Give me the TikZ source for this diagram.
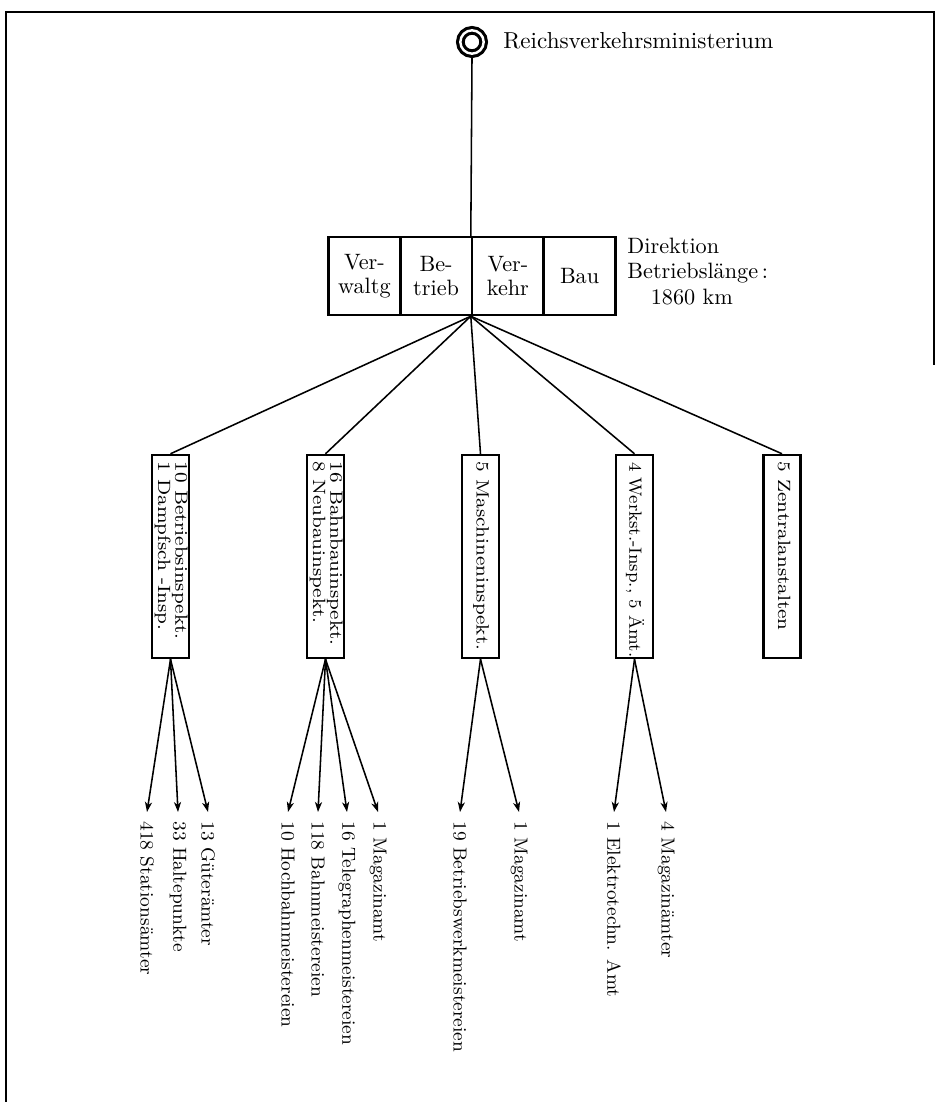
\documentclass[tikz,border=0pt]{standalone}
\usepackage{fontspec}
\usepackage{graphicx}
\usetikzlibrary{arrows.meta,calc}
\newcommand\unittext[3]{\rotatebox{-90}{\scalebox{#1}[1]{\makebox[#2][l]{\begin{tabular}{@{}l@{}}#3\end{tabular}}}}}
\begin{document}
\begin{tikzpicture}[x=0.45pt,y=-0.45pt,
  frame/.style={line width=1.1pt},
  conn/.style={line width=0.7pt},
  arr/.style={line width=0.7pt,-{Stealth[length=4.5pt,width=3.2pt,inset=1.3pt]}},
  ring/.style={circle,draw,line width=1.4pt,double,double distance=1.1pt,minimum size=10.5pt,inner sep=0pt,outer sep=1.95pt},
  cell/.style={draw,line width=1.1pt,minimum width=32.3pt,minimum height=35.1pt,inner sep=0pt,align=center,font=\fontsize{10}{11}\selectfont},
  unitbox/.style={draw,line width=1.1pt,minimum width=16.65pt,minimum height=91.35pt,inner xsep=0.4pt,inner ysep=3pt,font=\fontsize{8}{7.2}\selectfont},
  leaf/.style={inner xsep=0pt,inner ysep=4pt,anchor=north,font=\fontsize{8.5}{9}\selectfont}
]
\useasboundingbox (0,0) rectangle (935,1102);
\draw[frame] (6,1102) -- (6,12) -- (934,12) -- (934,365);

% ministry
\node[ring] (rvm) at (472,42) {};
\node[anchor=base west,inner sep=0pt,font=\fontsize{10.4}{12}\selectfont] (rvmt) at (503,49) {Reichsverkehrsministerium};

% direction cells
\node[cell] (c1) at (364.4,276) {Ver-\\waltg};
\node[cell] (c2) at (436.1,276) {Be-\\trieb};
\node[cell] (c3) at (507.9,276) {Ver-\\kehr};
\node[cell] (c4) at (579.6,276) {Bau};
\node[anchor=north west,align=left,inner sep=0pt,font=\fontsize{10}{11.3}\selectfont] (dir) at (627,238) {Direktion\\Betriebslänge\,:\\\hspace*{1.05em}1860 km};

\draw[conn] (rvm.south) -- (c3.north west);

% inspections
\node[unitbox] (b1) at (170.5,556.5) {\unittext{1.12}{76pt}{10 Betriebsinspekt.\\1 Dampfsch -Insp.}};
\node[unitbox] (b2) at (325.5,556.5) {\unittext{1.12}{76pt}{16 Bahnbauinspekt.\\8 Neubauinspekt.}};
\node[unitbox] (b3) at (480.5,556.5) {\unittext{1.12}{76pt}{5 Maschineninspekt.}};
\node[unitbox] (b4) at (634.5,556.5) {\unittext{1.0}{85pt}{4 Werkst.-Insp., 5 Ämt.}};
\node[unitbox] (b5) at (782,556.5) {\unittext{1.12}{76pt}{5 Zentralanstalten}};

\foreach \b in {b1,b2,b3,b4,b5} \draw[conn] (c3.south west) -- (\b.north);

% leaves
\node[leaf] (l11) at (147,812) {\rotatebox{-90}{418 Stationsämter}};
\node[leaf] (l12) at (178,812) {\rotatebox{-90}{33 Haltepunkte}};
\node[leaf] (l13) at (208,812) {\rotatebox{-90}{13 Güterämter}};
\node[leaf] (l21) at (288,812) {\rotatebox{-90}{10 Hochbahnmeistereien}};
\node[leaf] (l22) at (318,812) {\rotatebox{-90}{118 Bahnmeistereien}};
\node[leaf] (l23) at (347,812) {\rotatebox{-90}{16 Telegraphenmeistereien}};
\node[leaf] (l24) at (378,812) {\rotatebox{-90}{1 Magazinamt}};
\node[leaf] (l31) at (460,812) {\rotatebox{-90}{19 Betriebswerkmeistereien}};
\node[leaf] (l32) at (519,812) {\rotatebox{-90}{1 Magazinamt}};
\node[leaf] (l41) at (614,812) {\rotatebox{-90}{1 Elektrotechn. Amt}};
\node[leaf] (l42) at (666,812) {\rotatebox{-90}{4 Magazinämter}};

\foreach \l in {l11,l12,l13} \draw[arr] (b1.south) -- (\l.north);
\foreach \l in {l21,l22,l23,l24} \draw[arr] (b2.south) -- (\l.north);
\foreach \l in {l31,l32} \draw[arr] (b3.south) -- (\l.north);
\foreach \l in {l41,l42} \draw[arr] (b4.south) -- (\l.north);
\end{tikzpicture}
\end{document}
